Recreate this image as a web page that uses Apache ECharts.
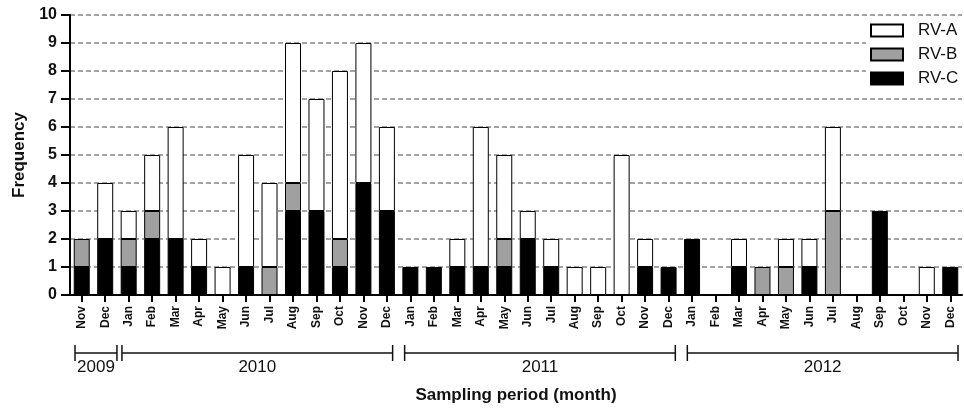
<!DOCTYPE html>
<html><head><meta charset="utf-8">
<script src="https://cdn.jsdelivr.net/npm/echarts@6/dist/echarts.min.js"></script>
<style>html,body{margin:0;padding:0;background:#fff}#c{width:964px;height:414px}</style>
</head><body><div id="c"></div>
<script>
const months = ['Nov','Dec',
  'Jan','Feb','Mar','Apr','May','Jun','Jul','Aug','Sep','Oct','Nov','Dec',
  'Jan','Feb','Mar','Apr','May','Jun','Jul','Aug','Sep','Oct','Nov','Dec',
  'Jan','Feb','Mar','Apr','May','Jun','Jul','Aug','Sep','Oct','Nov','Dec'];
const rvC = [1,2, 1,2,2,1,0,1,0,3,3,1,4,3, 1,1,1,1,1,2,1,0,0,0,1,1, 2,0,1,0,0,1,0,0,3,0,0,1];
const rvB = [1,0, 1,1,0,0,0,0,1,1,0,1,0,0, 0,0,0,0,1,0,0,0,0,0,0,0, 0,0,0,1,1,0,3,0,0,0,0,0];
const rvA = [0,2, 1,2,4,1,1,4,3,5,4,6,5,3, 0,0,1,5,3,1,1,1,1,5,1,0, 0,0,1,0,1,1,3,0,0,0,1,0];
const years = ['2009','2010','2011','2012'];
const yearFirst = [0,2,14,26];
const yearLast = [1,13,25,37];
const yMin = 0, yMax = 10, yStep = 1;

const FONT = "'Liberation Sans', Arial, sans-serif";
const chart = echarts.init(document.getElementById('c'), null, {renderer:'canvas'});
const nz = a => a.map(v => v === 0 ? '-' : v);
const bar = (name, data, color) => ({
  name, type:'bar', stack:'rv', data: nz(data), barWidth: 16,
  itemStyle:{color, borderColor:'#000', borderWidth:1},
  emphasis:{disabled:true}
});
chart.setOption({
  animation:false,
  backgroundColor:'#fff',
  textStyle:{fontFamily:FONT},
  grid:{left:70, right:2, top:15, bottom:119},
  legend:{
    data:['RV-A','RV-B','RV-C'], orient:'vertical', left:866, top:16,
    icon:'rect',
    itemWidth:32, itemHeight:12, itemGap:7, backgroundColor:'#fff',
    padding:[6,20,6,4],
    textStyle:{fontSize:17, color:'#111', fontFamily:FONT, padding:[0,0,0,10]}
  },
  xAxis:{
    type:'category', data:months,
    name:'Sampling period (month)', nameLocation:'middle', nameGap:92,
    nameTextStyle:{fontSize:17, fontWeight:'bold', color:'#111', fontFamily:FONT},
    axisLine:{lineStyle:{color:'#000', width:2}},
    axisTick:{show:true, alignWithLabel:true, length:7, lineStyle:{color:'#000', width:2}},
    axisLabel:{rotate:90, interval:0, margin:11, fontSize:12, fontWeight:'bold', color:'#111', fontFamily:FONT}
  },
  yAxis:{
    type:'value', min:yMin, max:yMax, interval:yStep,
    name:'Frequency', nameLocation:'middle', nameGap:42,
    nameTextStyle:{fontSize:17, fontWeight:'bold', color:'#111', fontFamily:FONT},
    axisLine:{show:true, lineStyle:{color:'#000', width:2}},
    axisTick:{show:true, inside:false, length:9, lineStyle:{color:'#000', width:2}},
    axisLabel:{margin:13, fontSize:16, fontWeight:'bold', color:'#111', fontFamily:FONT},
    splitLine:{show:true, lineStyle:{color:'#a3a3a3', width:2, type:[5,3]}}
  },
  series:[bar('RV-C', rvC, '#000'), bar('RV-B', rvB, '#a0a0a0'), bar('RV-A', rvA, '#fff')]
});

// year brackets, positioned from the category axis
const cx = i => chart.convertToPixel({xAxisIndex:0}, i);
const bw = cx(1) - cx(0);
const yLine = 353, tickH = 8;
const insetL = [5,5,6,7], insetR = [0,6,5,4];
const g = [];
years.forEach((yr, k) => {
  const x1 = cx(yearFirst[k]) - bw/2 + insetL[k];
  const x2 = cx(yearLast[k]) + bw/2 - insetR[k];
  const st = {stroke:'#111', lineWidth:1.5};
  g.push({type:'line', shape:{x1, y1:yLine, x2, y2:yLine}, style:st, silent:true});
  g.push({type:'line', shape:{x1, y1:yLine-tickH, x2:x1, y2:yLine+tickH}, style:st, silent:true});
  g.push({type:'line', shape:{x1:x2, y1:yLine-tickH, x2, y2:yLine+tickH}, style:st, silent:true});
  g.push({type:'text', x:(x1+x2)/2, y:367, style:{text:yr, fontSize:17, fill:'#111', fontFamily:FONT, textAlign:'center', textVerticalAlign:'middle'}, silent:true});
});
chart.setOption({graphic:g});
</script>
</body></html>
